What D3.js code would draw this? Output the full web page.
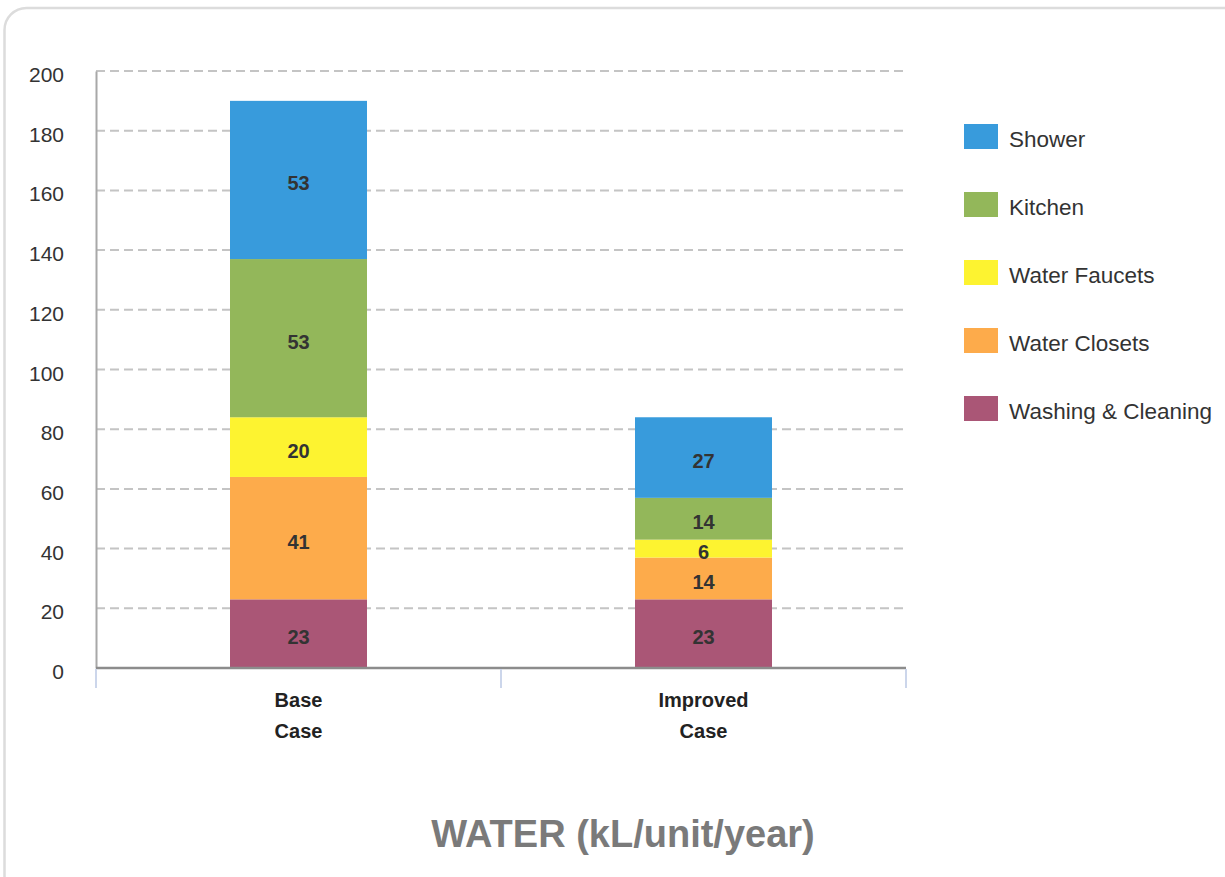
<!DOCTYPE html>
<html>
<head>
<meta charset="utf-8">
<script src="https://cdn.jsdelivr.net/npm/d3@7"></script>
<style>
  html, body { margin: 0; padding: 0; background: #fff; }
  svg { display: block; font-family: "Liberation Sans", Arial, sans-serif; }
</style>
</head>
<body>
<svg id="chart" width="1225" height="877"></svg>
<script>
// Water use per unit, split by end use (kL/unit/year)
const categories = ["Base Case", "Improved Case"];
const seriesNames = ["Washing & Cleaning", "Water Closets", "Water Faucets", "Kitchen", "Shower"];
const washingCleaning = [23, 23];
const waterClosets = [41, 14];
const waterFaucets = [20, 6];
const kitchen = [53, 14];
const shower = [53, 27];
const yTicks = [0, 20, 40, 60, 80, 100, 120, 140, 160, 180, 200];
const seriesColors = ["#aa5676", "#fdab4b", "#fdf330", "#93b75a", "#389bdc"];
const legendOrder = ["Shower", "Kitchen", "Water Faucets", "Water Closets", "Washing & Cleaning"];
const chartTitle = "WATER (kL/unit/year)";

const svg = d3.select("#chart");

// card frame
svg.append("rect")
  .attr("x", 4.5).attr("y", 8)
  .attr("width", 1300).attr("height", 1000)
  .attr("rx", 22).attr("ry", 22)
  .attr("fill", "#fff")
  .attr("stroke", "#dcdcdc").attr("stroke-width", 2.5);

const plot = { left: 96, right: 906, top: 71, bottom: 668 };

const x = d3.scaleBand().domain(categories).range([plot.left, plot.right]).padding(0);
const y = d3.scaleLinear().domain([0, 200]).range([plot.bottom, plot.top]);
const barWidth = 137;

// dashed horizontal grid
svg.append("g").selectAll("line")
  .data(yTicks.filter(d => d > 0))
  .join("line")
  .attr("x1", plot.left).attr("x2", plot.right)
  .attr("y1", d => y(d)).attr("y2", d => y(d))
  .attr("stroke", "#c4c4c4").attr("stroke-width", 2)
  .attr("stroke-dasharray", "9,5");

// y axis
const yAxis = svg.append("g")
  .attr("transform", `translate(${plot.left},0)`)
  .call(d3.axisLeft(y).tickValues(yTicks).tickSize(0).tickPadding(32));
yAxis.select(".domain").attr("stroke", "#a8a8a8").attr("stroke-width", 2);
yAxis.selectAll("text")
  .attr("font-size", 21).attr("fill", "#333")
  .attr("dy", "0.5em")
  .attr("font-family", "Liberation Sans, Arial, sans-serif");

// stacked bars
const rows = categories.map((c, i) => ({
  category: c,
  "Washing & Cleaning": washingCleaning[i],
  "Water Closets": waterClosets[i],
  "Water Faucets": waterFaucets[i],
  "Kitchen": kitchen[i],
  "Shower": shower[i]
}));
const stack = d3.stack().keys(seriesNames)(rows);
const color = d3.scaleOrdinal().domain(seriesNames).range(seriesColors);

const layers = svg.append("g").selectAll("g")
  .data(stack)
  .join("g")
  .attr("fill", d => color(d.key));

layers.selectAll("rect")
  .data(d => d)
  .join("rect")
  .attr("x", d => x(d.data.category) + (x.bandwidth() - barWidth) / 2)
  .attr("width", barWidth)
  .attr("y", d => y(d[1]))
  .attr("height", d => y(d[0]) - y(d[1]));

// value labels
const labelGroup = svg.append("g");
stack.forEach(layer => {
  layer.forEach(d => {
    labelGroup.append("text")
      .attr("x", x(d.data.category) + x.bandwidth() / 2)
      .attr("y", (y(d[0]) + y(d[1])) / 2)
      .attr("dy", "0.52em")
      .attr("text-anchor", "middle")
      .attr("font-size", 20).attr("font-weight", "bold")
      .attr("fill", "#333")
      .text(d[1] - d[0]);
  });
});

// x axis
const xAxis = svg.append("g")
  .attr("transform", `translate(0,${plot.bottom})`);
xAxis.append("line")
  .attr("x1", plot.left).attr("x2", plot.right)
  .attr("stroke", "#8c8c8c").attr("stroke-width", 2.5);
const tickPositions = [plot.left, ...categories.slice(1).map(c => x(c)), plot.right];
xAxis.selectAll("line.tick")
  .data(tickPositions)
  .join("line")
  .attr("class", "tick")
  .attr("x1", d => d).attr("x2", d => d)
  .attr("y1", 1).attr("y2", 20)
  .attr("stroke", "#ccd6eb").attr("stroke-width", 2);

categories.forEach(c => {
  const words = c.split(" ");
  const t = xAxis.append("text")
    .attr("x", x(c) + x.bandwidth() / 2)
    .attr("y", 39)
    .attr("text-anchor", "middle")
    .attr("font-size", 20).attr("font-weight", "bold")
    .attr("fill", "#222");
  words.forEach((w, i) => {
    t.append("tspan")
      .attr("x", x(c) + x.bandwidth() / 2)
      .attr("dy", i === 0 ? 0 : 31)
      .text(w);
  });
});

// legend
const legend = svg.append("g").attr("transform", "translate(964,124)");
const items = legend.selectAll("g")
  .data(legendOrder)
  .join("g")
  .attr("transform", (d, i) => `translate(0,${i * 68})`);
items.append("rect")
  .attr("width", 34).attr("height", 25)
  .attr("fill", d => color(d));
items.append("text")
  .attr("x", 45).attr("y", 12.5)
  .attr("dy", "0.48em")
  .attr("font-size", 22.5)
  .attr("fill", "#333")
  .text(d => d);

// chart title
svg.append("text")
  .attr("x", 623).attr("y", 847)
  .attr("text-anchor", "middle")
  .attr("font-size", 38).attr("font-weight", "bold")
  .attr("fill", "#7a7a7a")
  .text(chartTitle);
</script>
</body>
</html>
